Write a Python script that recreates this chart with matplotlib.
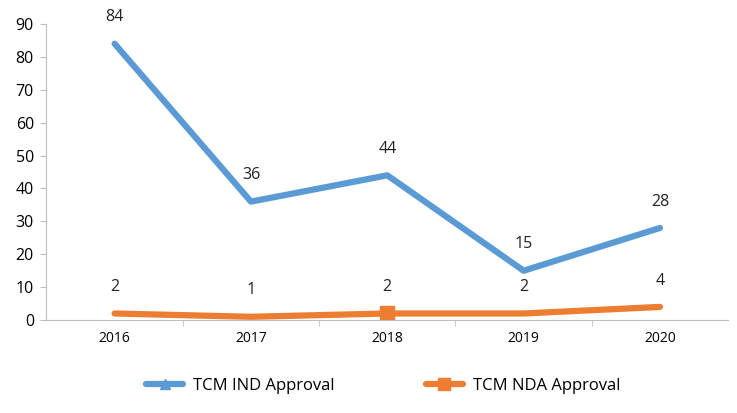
import numpy as np
import matplotlib.pyplot as plt

years = ['2016', '2017', '2018', '2019', '2020']
ind_approval = [84, 36, 44, 15, 28]
nda_approval = [2, 1, 2, 2, 4]

plt.rcParams['font.family'] = ['Open Sans', 'DejaVu Sans']

blue = '#5B9BD5'
orange = '#ED7D31'

fig = plt.figure(figsize=(7.37, 4.13), dpi=100)
ax = fig.add_axes([0.063, 0.225, 0.925, 0.717])

x = np.arange(len(years))
ax.plot(x, ind_approval, color=blue, lw=4.5, marker='^', markevery=[], ms=9,
        solid_capstyle='round', label='TCM IND Approval')
ax.plot(x, nda_approval, color=orange, lw=4.5, marker='s', markevery=[2], ms=10,
        solid_capstyle='round', label='TCM NDA Approval')

for xi, v in zip(x, ind_approval):
    ax.annotate(str(v), (xi, v), xytext=(0, 19), textcoords='offset points',
                ha='center', va='center', fontsize=11.5, color='#222222')
for xi, v in zip(x, nda_approval):
    ax.annotate(str(v), (xi, v), xytext=(0, 19), textcoords='offset points',
                ha='center', va='center', fontsize=11.5, color='#222222')

ax.set_xlim(-0.5, len(years) - 0.5)
ax.set_ylim(0, 90)
ax.set_yticks(range(0, 91, 10))
ax.set_xticks(x)
ax.set_xticklabels(years)
ax.set_xticks(np.arange(0.5, len(years) - 0.5, 1), minor=True)
ax.tick_params(axis='x', which='major', length=0, pad=8, labelsize=10)
ax.tick_params(axis='x', which='minor', length=4, color='#bfbfbf', direction='out')
ax.tick_params(axis='y', length=4, color='#bfbfbf', labelsize=11.5, pad=5)

for s in ['top', 'right']:
    ax.spines[s].set_visible(False)
ax.spines['left'].set_color('#bfbfbf')
ax.spines['bottom'].set_color('#bfbfbf')

fig.legend(loc='lower center', bbox_to_anchor=(0.52, 0.01), ncol=2, frameon=False,
           fontsize=12, handlelength=2.2, handletextpad=0.6, columnspacing=5.5,
           markerscale=0.8)

plt.savefig('out.png', dpi=100)
